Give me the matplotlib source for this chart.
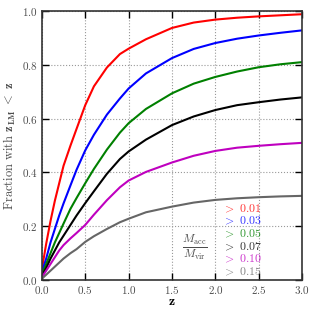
import numpy as np
import matplotlib
matplotlib.use('Agg')
import matplotlib.pyplot as plt

plt.rcParams['font.family'] = 'cmr10'
plt.rcParams['mathtext.fontset'] = 'cm'
plt.rcParams['axes.formatter.use_mathtext'] = True

z = [0.0, 0.05, 0.1, 0.15, 0.2, 0.25, 0.33, 0.4, 0.5, 0.6, 0.75, 0.9, 1.0,
     1.2, 1.5, 1.75, 2.0, 2.25, 2.5, 2.75, 3.0]

## fraction with z_LM < z, one list per mass ratio cut
f_001 = [0.04, 0.135, 0.22, 0.295, 0.36, 0.425, 0.5, 0.562, 0.65, 0.72, 0.79, 0.84, 0.86,
         0.895, 0.937, 0.957, 0.968, 0.975, 0.98, 0.984, 0.988]
f_003 = [0.03, 0.08, 0.14, 0.19, 0.24, 0.285, 0.352, 0.41, 0.482, 0.54, 0.615, 0.675, 0.712,
         0.768, 0.825, 0.859, 0.881, 0.897, 0.909, 0.919, 0.928]
f_005 = [0.02, 0.06, 0.1, 0.14, 0.175, 0.21, 0.265, 0.305, 0.36, 0.413, 0.485, 0.548, 0.583,
         0.636, 0.694, 0.73, 0.755, 0.775, 0.791, 0.802, 0.81]
f_007 = [0.015, 0.045, 0.08, 0.11, 0.14, 0.165, 0.205, 0.24, 0.286, 0.33, 0.395, 0.45, 0.478,
         0.522, 0.576, 0.608, 0.632, 0.65, 0.661, 0.671, 0.679]
f_010 = [0.01, 0.035, 0.06, 0.085, 0.11, 0.13, 0.155, 0.175, 0.205, 0.243, 0.297, 0.345, 0.37,
         0.402, 0.437, 0.462, 0.48, 0.492, 0.499, 0.505, 0.51]
f_015 = [0.005, 0.02, 0.035, 0.05, 0.065, 0.08, 0.1, 0.115, 0.142, 0.163, 0.19, 0.215, 0.228,
         0.252, 0.273, 0.288, 0.298, 0.304, 0.308, 0.311, 0.313]

fracs = [f_001, f_003, f_005, f_007, f_010, f_015]
labels = ['0.01', '0.03', '0.05', '0.07', '0.10', '0.15']
colors = ['r', 'b', 'g', 'k', 'm', '0.4']
label_y = [0.266, 0.22, 0.173, 0.124, 0.077, 0.031]

fig = plt.figure(figsize=(3.27, 3.14), dpi=100)
ax = fig.add_axes([0.128, 0.108, 0.796, 0.857])

for f, c in zip(fracs, colors):
    ax.plot(z, f, color=c, lw=1.5)

## the labels of the cuts, written in the colour of their curve
for lab, c, y in zip(labels, colors, label_y):
    ax.text(2.08, y, r'$>$ ' + lab, color=c, fontsize=8.5, va='center', ha='left', alpha=0.8)

ax.text(1.76, 0.124, r'$\frac{M_{\rm acc}}{M_{\rm vir}}$', fontsize=12, ha='center', va='center', color='0.3')

ax.set_xlim(0, 3)
ax.set_ylim(0, 1)
ax.set_xticks(np.arange(0, 3.01, 0.5))
ax.set_yticks(np.arange(0, 1.01, 0.2))
ax.tick_params(direction='in', top=True, right=True, length=5, width=1, labelsize=8, labelcolor='0.3', pad=3)
ax.grid(True, ls=':', color='0.6', lw=0.8)
for s in ax.spines.values():
    s.set_linewidth(1.2)
    s.set_color('0.2')

ax.set_xlabel(r'$\mathbf{z}$', fontsize=10, labelpad=0)
ax.set_ylabel(r'Fraction with $\mathbf{z_{LM}}$ $<$ $\mathbf{z}$', fontsize=9, color='0.3', labelpad=3)

fig.savefig('out.png', dpi=100)
